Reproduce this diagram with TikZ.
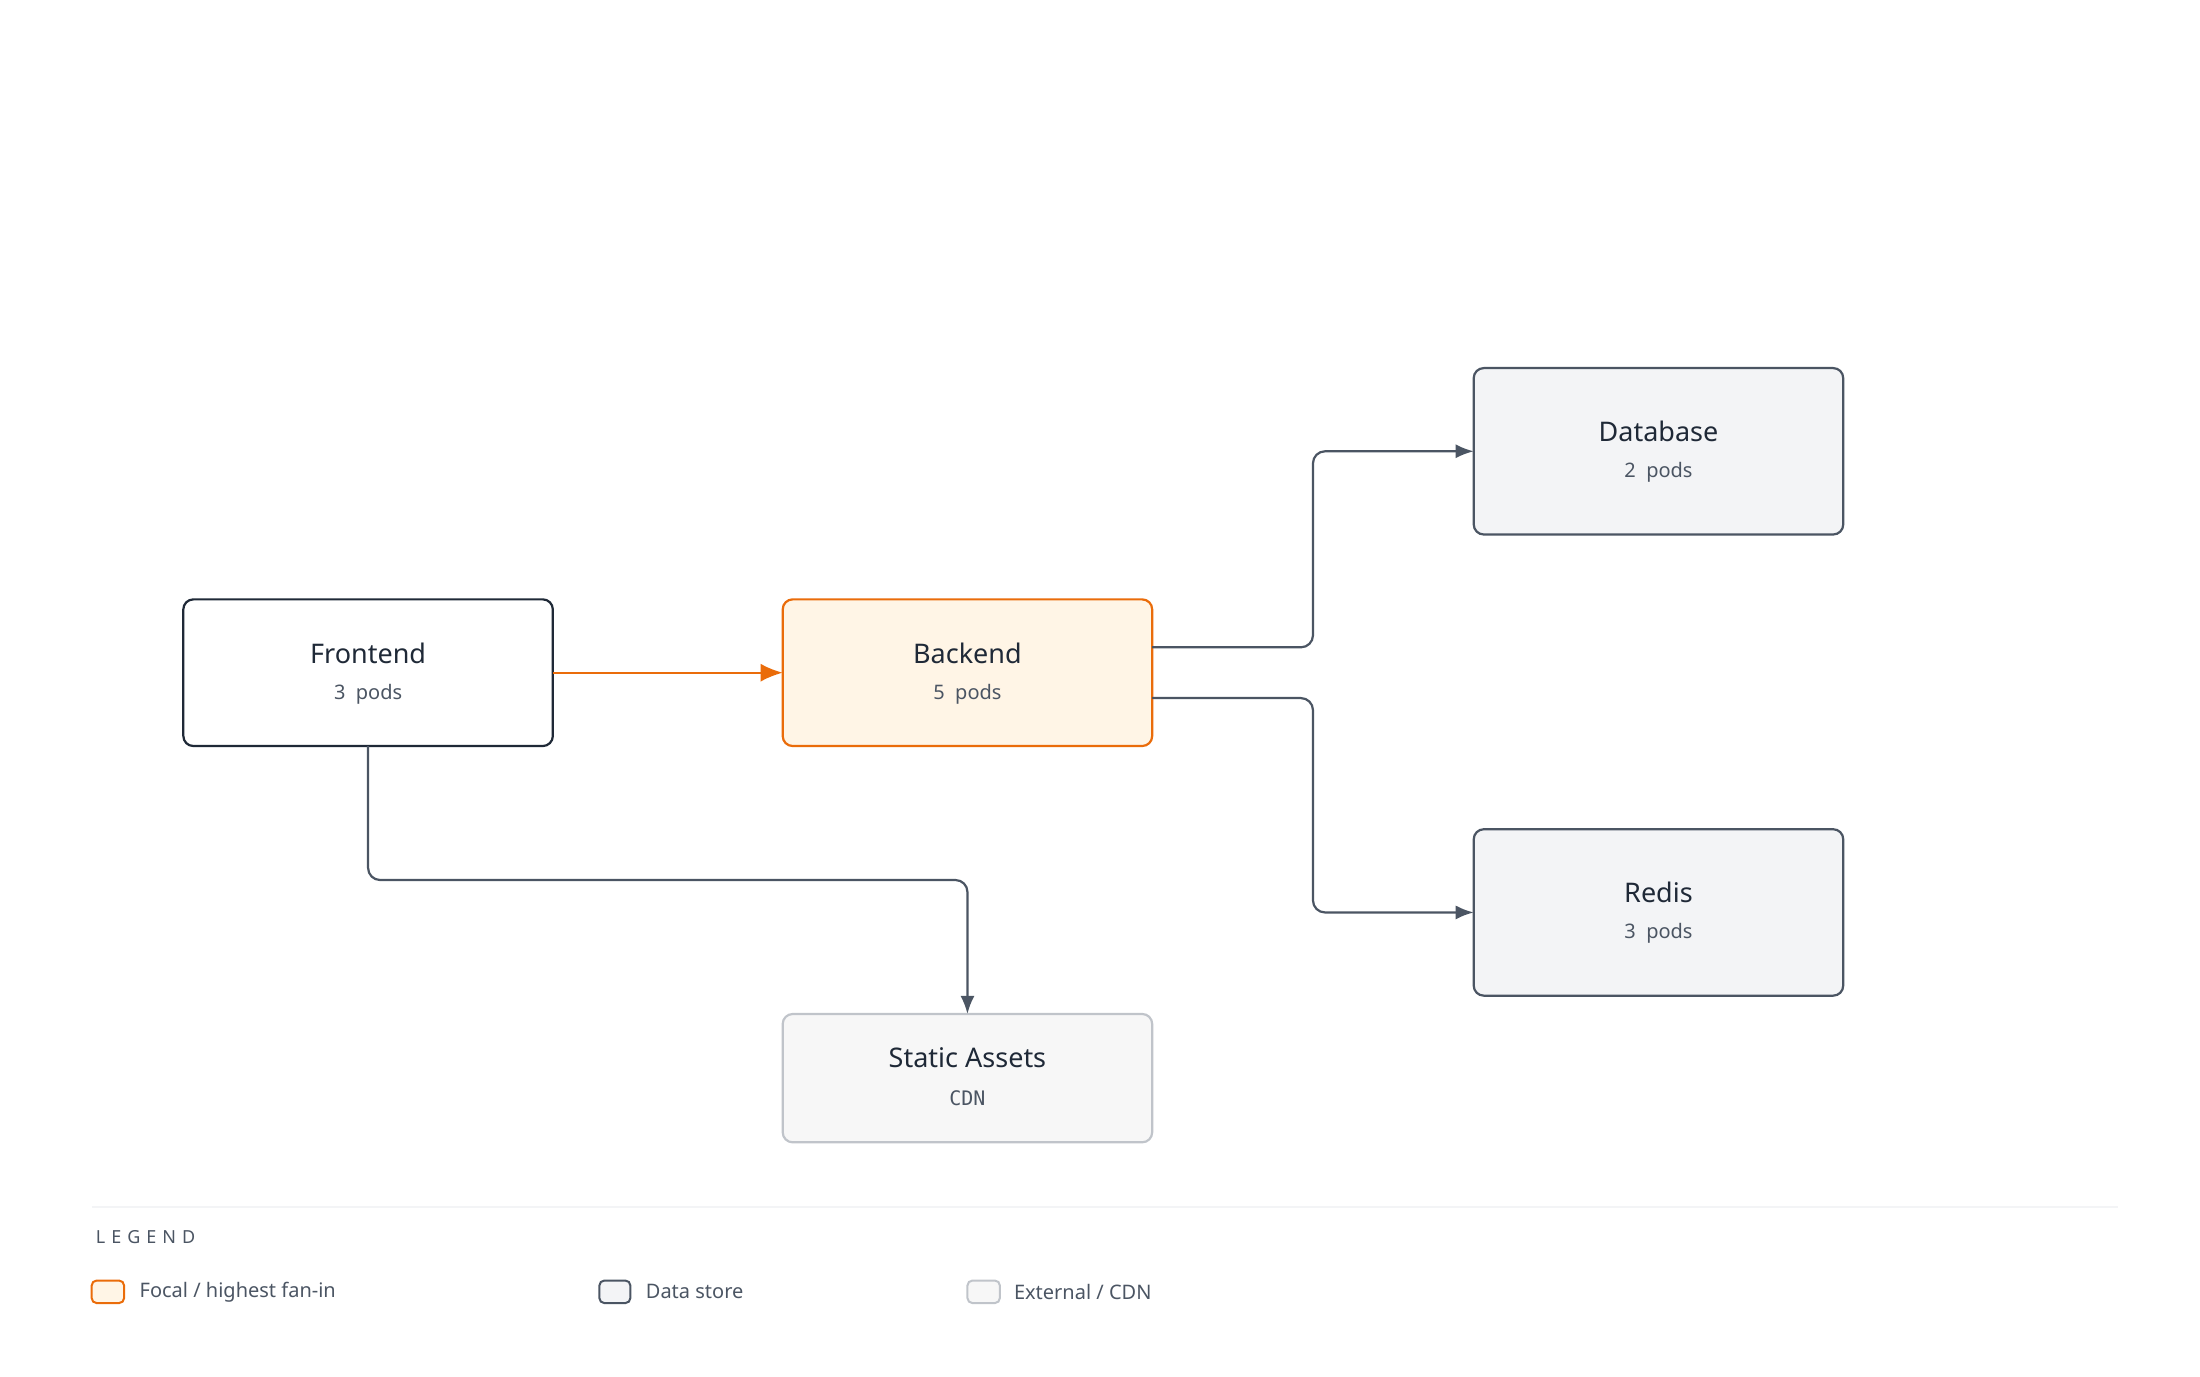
\documentclass[tikz,border=0pt]{standalone}
\usepackage{fontspec}
\setmainfont{Noto Sans}
\setmonofont{DejaVu Sans Mono}
\usetikzlibrary{arrows.meta}
\definecolor{ink}{HTML}{1F2937}
\definecolor{sub}{HTML}{4B5563}
\definecolor{org}{HTML}{EA6C0A}
\definecolor{orgf}{HTML}{FFF5E6}
\definecolor{gf}{HTML}{F3F4F6}
\definecolor{eb}{HTML}{C0C4CA}
\definecolor{ef}{HTML}{F7F7F7}
\begin{document}
\begin{tikzpicture}[x=0.705pt,y=-0.705pt,
 box/.style={rounded corners=5pt,line width=1.1pt},
 ttl/.style={font=\fontsize{13.5}{16}\selectfont\bfseries,text=ink},
 sb/.style={font=\fontsize{10}{12}\selectfont,text=sub},
 edge/.style={draw=sub,line width=1.1pt,rounded corners=6pt,-{Latex[length=9pt,width=7pt]}},
 lg/.style={font=\fontsize{10}{12}\selectfont,text=sub,anchor=west}]
\useasboundingbox (0,0) rectangle (1560,976);
\draw[box,draw=ink,fill=white] (130,425) rectangle (392,529);
\draw[box,draw=org,fill=orgf] (555,425) rectangle (817,529);
\draw[box,draw=sub,fill=gf] (1045,261) rectangle (1307,379);
\draw[box,draw=sub,fill=gf] (1045,588) rectangle (1307,706);
\draw[box,draw=eb,fill=ef] (555,719) rectangle (817,810);
\node[ttl] (ft) at (261,463) {Frontend}; \node[sb] (fs) at (261,492) {3\ \ pods};
\node[ttl] (bt) at (686,463) {Backend}; \node[sb] (bs) at (686,492) {5\ \ pods};
\node[ttl] (dt) at (1176,306) {Database}; \node[sb] (ds) at (1176,335) {2\ \ pods};
\node[ttl] (rt) at (1176,633) {Redis}; \node[sb] (rs) at (1176,662) {3\ \ pods};
\node[ttl] (st) at (686,750) {Static Assets}; \node[sb,font=\fontsize{10}{12}\selectfont\ttfamily] (ss) at (686,779) {CDN};
\coordinate (f1) at (392,477); \coordinate (b1) at (555,477);
\coordinate (b2) at (817,459); \coordinate (d1) at (1045,320);
\coordinate (b3) at (817,495); \coordinate (r1) at (1045,647);
\coordinate (f2) at (261,529); \coordinate (s1) at (686,719);
\draw[edge,draw=org,-{Latex[length=11pt,width=9pt]}] (f1) -- (b1);
\draw[edge] (b2) -- (931,459) -- (931,320) -- (d1);
\draw[edge] (b3) -- (931,495) -- (931,647) -- (r1);
\draw[edge] (f2) -- (261,624) -- (686,624) -- (s1);
\draw[draw=gf,line width=1pt] (65,856) -- (1502,856);
\node[anchor=west,font=\fontsize{9}{11}\selectfont,text=sub] (lt) at (63,877) {L\,\,E\,\,G\,\,E\,\,N\,\,D};
\draw[rounded corners=2.5pt,line width=1pt,draw=org,fill=orgf] (65,908) rectangle (88,924);
\draw[rounded corners=2.5pt,line width=1pt,draw=sub,fill=gf] (425,908) rectangle (447,924);
\draw[rounded corners=2.5pt,line width=1pt,draw=eb,fill=ef] (686,908) rectangle (709,924);
\node[lg] (l1) at (94,916) {Focal / highest fan-in};
\node[lg] (l2) at (453,916) {Data store};
\node[lg] (l3) at (714,916) {External / CDN};
\end{tikzpicture}
\end{document}
